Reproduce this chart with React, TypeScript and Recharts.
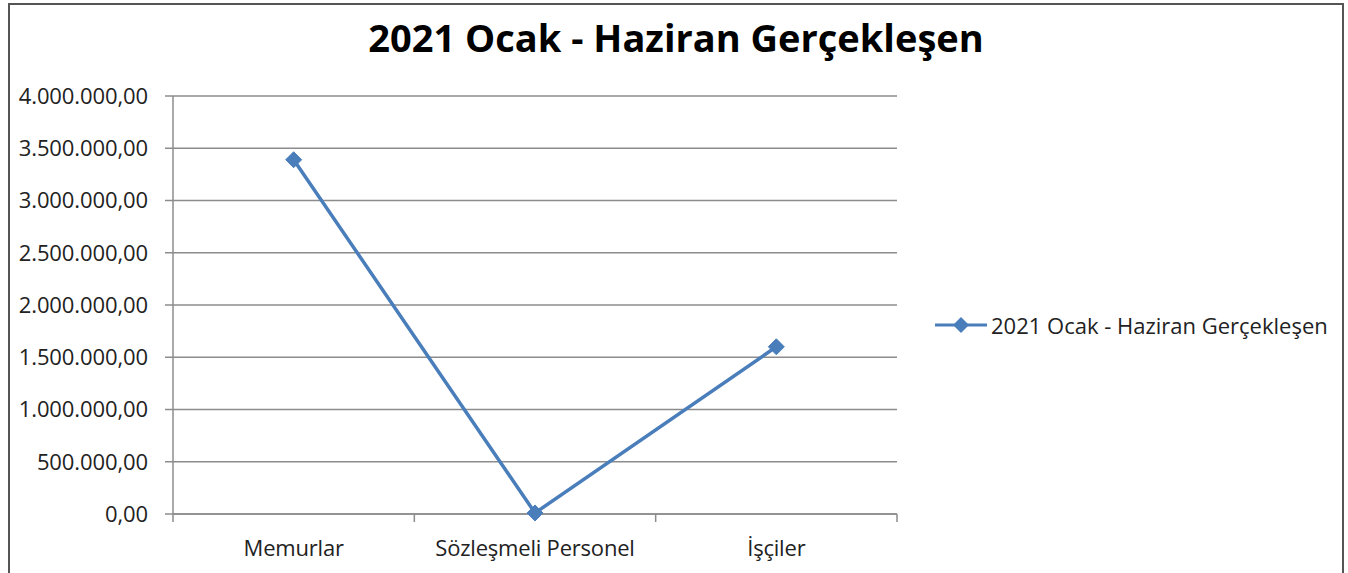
import { LineChart, Line, XAxis, YAxis, CartesianGrid, Legend } from 'recharts'

const categories = ['Memurlar', 'Sözleşmeli Personel', 'İşçiler']
const realized = [3390000, 10000, 1600000]
const yTicks = [0, 500000, 1000000, 1500000, 2000000, 2500000, 3000000, 3500000, 4000000]
// category slots sit on whole numbers, Excel-style tick marks between them on the halves
const xTicks = [-0.5, 0, 0.5, 1, 1.5, 2, 2.5]

const SERIES = '2021 Ocak - Haziran Gerçekleşen'
const BLUE = '#4A7EBB'
const GRID = '#8C8C8C'
const FONT = '"Open Sans", sans-serif'

const data = categories.map((name, i) => ({ idx: i, name, value: realized[i] }))

function formatTr(v: number) {
  const int = Math.round(v).toString().replace(/\B(?=(\d{3})+(?!\d))/g, '.')
  return int + ',00'
}

function XTick(props: any) {
  const { x, y, payload } = props
  const v = payload.value
  if (Number.isInteger(v)) {
    return (
      <text x={x} y={y + 26} dy="0.71em" textAnchor="middle" fill="#222" fontSize={22} fontFamily={FONT} letterSpacing={-0.2}>
        {categories[v]}
      </text>
    )
  }
  return <line x1={x} x2={x} y1={y} y2={y + 8} stroke={GRID} strokeWidth={1.5} />
}

function Diamond(props: any) {
  const { cx, cy } = props
  if (cx == null || cy == null) return null
  const r = 8
  return (
    <polygon
      points={`${cx},${cy - r} ${cx + r},${cy} ${cx},${cy + r} ${cx - r},${cy}`}
      fill={BLUE}
      stroke={BLUE}
    />
  )
}

function LegendItem() {
  return (
    <div style={{ display: 'flex', alignItems: 'center', fontFamily: FONT, fontSize: 22, color: '#222', whiteSpace: 'nowrap' }}>
      <svg width={54} height={18}>
        <line x1={0} y1={9} x2={52} y2={9} stroke={BLUE} strokeWidth={3} />
        <polygon points="26,1 34,9 26,17 18,9" fill={BLUE} />
      </svg>
      <span style={{ marginLeft: 2, letterSpacing: 0 }}>{SERIES}</span>
    </div>
  )
}

export default function App() {
  return (
    <div
      style={{
        position: 'absolute',
        top: 3,
        left: 8,
        width: 1336,
        height: 570,
        overflow: 'hidden',
      }}
    >
      <div
        style={{
          position: 'relative',
          width: 1332,
          height: 600,
          border: '2px solid #555',
          background: '#fff',
        }}
      >
        <div
          style={{
            position: 'absolute',
            top: 6,
            left: 0,
            width: 1332,
            textAlign: 'center',
            fontFamily: FONT,
            fontWeight: 700,
            fontSize: 38,
            color: '#000',
          }}
        >
          {SERIES}
        </div>
        <LineChart
          width={1332}
          height={570}
          data={data}
          margin={{ top: 91, right: 445, bottom: 22, left: 0 }}
        >
          <CartesianGrid horizontal vertical={false} stroke={GRID} strokeWidth={1.5} />
          <XAxis
            dataKey="idx"
            type="number"
            domain={[-0.5, 2.5]}
            ticks={xTicks}
            interval={0}
            height={39}
            axisLine={{ stroke: GRID, strokeWidth: 1.5 }}
            tickLine={false}
            tickSize={0}
            tickMargin={0}
            tick={<XTick />}
          />
          <YAxis
            width={163}
            domain={[0, 4000000]}
            ticks={yTicks}
            tickFormatter={formatTr}
            axisLine={{ stroke: GRID, strokeWidth: 1.5 }}
            tickLine={{ stroke: GRID, strokeWidth: 1.5 }}
            tickSize={8}
            tickMargin={17}
            tick={{ fill: '#222', fontSize: 22, fontFamily: FONT, letterSpacing: -0.1 }}
          />
          <Legend
            layout="horizontal"
            verticalAlign="middle"
            align="center"
            content={() => <LegendItem />}
            wrapperStyle={{ left: 925, top: 305, right: 'auto', bottom: 'auto', width: 420 }}
          />
          <Line
            dataKey="value"
            name={SERIES}
            stroke={BLUE}
            strokeWidth={3.5}
            dot={<Diamond />}
            activeDot={false}
            isAnimationActive={false}
          />
        </LineChart>
      </div>
    </div>
  )
}
